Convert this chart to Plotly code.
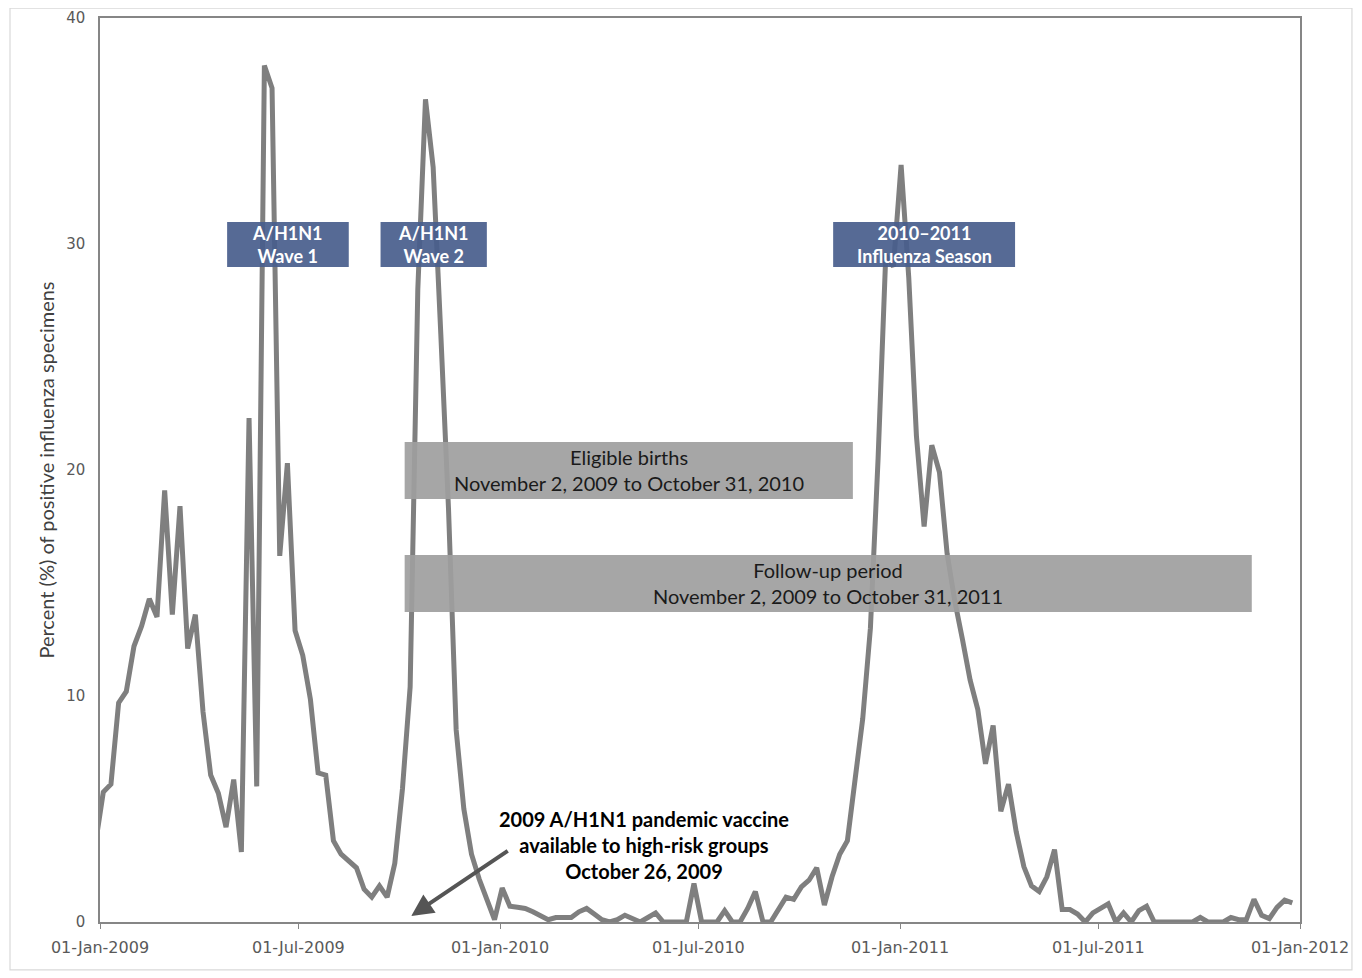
import pandas as pd
import plotly.graph_objects as go

# ---- data ----
week_start = "2008-12-28"
n_weeks = 157
pct_positive = [
    3.5,
    5.75, 6.1, 9.7, 10.2, 12.2, 13.1, 14.3, 13.5, 19.1, 13.6,
    18.4, 12.1, 13.6, 9.3, 6.5, 5.7, 4.2, 6.3, 3.1, 22.3,
    6.0, 37.9, 36.9, 16.2, 20.3, 12.9, 11.8, 9.85, 6.6, 6.5,
    3.6, 3.0, 2.7, 2.4, 1.45, 1.1, 1.6, 1.1, 2.6, 5.9,
    10.4, 28.0, 36.4, 33.4, 26.0, 18.3, 8.5, 5.0, 3.0, 1.9,
    1.0, 0.1, 1.5, 0.7, 0.65, 0.6, 0.45, 0.3, 0.1, 0.2,
    0.2, 0.2, 0.45, 0.6, 0.35, 0.1, 0.0, 0.1, 0.3, 0.15,
    0.0, 0.2, 0.4, 0.0, 0.0, 0.0, 0.0, 1.7, 0.0, 0.0,
    0.0, 0.5, 0.0, 0.0, 0.6, 1.35, 0.0, 0.0, 0.6, 1.1,
    1.0, 1.55, 1.85, 2.4, 0.75, 2.0, 3.0, 3.6, 6.3, 9.0,
    13.0, 20.5, 29.5, 29.0, 33.5, 28.5, 21.5, 17.5, 21.1, 19.9,
    16.3, 14.2, 12.5, 10.7, 9.4, 7.0, 8.7, 4.9, 6.1, 4.0,
    2.45, 1.6, 1.35, 2.0, 3.2, 0.55, 0.55, 0.35, 0.0, 0.4,
    0.6, 0.8, 0.0, 0.4, 0.0, 0.5, 0.7, 0.0, 0.0, 0.0,
    0.0, 0.0, 0.0, 0.2, 0.0, 0.0, 0.0, 0.2, 0.1, 0.1,
    1.0, 0.3, 0.15, 0.65, 0.97, 0.85,
]
weeks = pd.date_range(week_start, periods=n_weeks, freq="7D")

x_tickvals = ["2009-01-01", "2009-07-01", "2010-01-01", "2010-07-01",
              "2011-01-01", "2011-07-01", "2012-01-01"]
x_ticktext = ["01-Jan-2009", "01-Jul-2009", "01-Jan-2010", "01-Jul-2010",
              "01-Jan-2011", "01-Jul-2011", "01-Jan-2012"]
y_tickvals = [0, 10, 20, 30, 40]

wave_labels = ["A/H1N1<br>Wave 1", "A/H1N1<br>Wave 2", "2010\u20132011<br>Influenza Season"]
wave_spans = [("2009-04-27", "2009-08-16"), ("2009-09-14", "2009-12-20"), ("2010-11-01", "2011-04-16")]
period_labels = ["Eligible births<br>November 2, 2009 to October 31, 2010",
                 "Follow-up period<br>November 2, 2009 to October 31, 2011"]
period_spans = [("2009-10-06", "2010-11-19"), ("2009-10-06", "2011-11-18")]
vaccine_text = "2009 A/H1N1 pandemic vaccine<br>available to high-risk groups<br>October 26, 2009"

fig = go.Figure()
fig.add_trace(go.Scatter(
    x=weeks, y=pct_positive, mode="lines",
    line=dict(color="#7f7f7f", width=5), showlegend=False, hoverinfo="x+y",
))

shapes = []
annotations = []
BLUE = "rgb(72,93,140)"
GRAY = "rgb(158,158,158)"

# blue wave boxes
for (x0, x1), label in zip(wave_spans, wave_labels):
    shapes.append(dict(type="rect", xref="x", yref="y", x0=x0, x1=x1, y0=28.98, y1=30.97,
                       fillcolor=BLUE, opacity=0.92, line=dict(width=0), layer="above"))
    mid = pd.Timestamp(x0) + (pd.Timestamp(x1) - pd.Timestamp(x0)) / 2
    annotations.append(dict(x=mid, y=29.97, xref="x", yref="y", text="<b>" + label + "</b>",
                            showarrow=False, font=dict(family="Lato", size=18, color="white"),
                            align="center"))

# gray period boxes
for (x0, x1), label, (yb, yt) in zip(period_spans, period_labels, [(18.72, 21.24), (13.72, 16.24)]):
    shapes.append(dict(type="rect", xref="x", yref="y", x0=x0, x1=x1, y0=yb, y1=yt,
                       fillcolor=GRAY, opacity=0.92, line=dict(width=0), layer="above"))
    mid = pd.Timestamp(x0) + (pd.Timestamp(x1) - pd.Timestamp(x0)) / 2
    annotations.append(dict(x=mid, y=(yb + yt) / 2, xref="x", yref="y", text=label,
                            showarrow=False, font=dict(family="Lato", size=20, color="#1a1a1a"),
                            align="center"))

# vaccine annotation + arrow
annotations.append(dict(x="2010-05-12", y=3.4, xref="x", yref="y", text="<b>" + vaccine_text + "</b>",
                        showarrow=False, font=dict(family="Lato", size=20, color="black"),
                        align="center"))
annotations.append(dict(x="2009-10-12", y=0.27, xref="x", yref="y", text="",
                        showarrow=True, ax=98, ay=-66, arrowhead=2, arrowsize=1.1,
                        arrowwidth=4, arrowcolor="#555555", standoff=0))

# outer chart frame
shapes.append(dict(type="rect", xref="paper", yref="paper", x0=-0.075, x1=1.0433,
                   y0=-0.053, y1=1.011, line=dict(color="#d9d9d9", width=1.2),
                   fillcolor="rgba(0,0,0,0)", layer="below"))

fig.update_layout(
    width=1354, height=970,
    margin=dict(l=92, r=62, t=10, b=56),
    paper_bgcolor="white", plot_bgcolor="white",
    shapes=shapes, annotations=annotations,
    font=dict(family="DejaVu Sans", color="#595959"),
)
fig.update_xaxes(
    range=["2009-01-01", "2012-01-01"], tickvals=x_tickvals, ticktext=x_ticktext,
    showgrid=False, zeroline=False, showline=True, linecolor="#868686", linewidth=1.5,
    mirror=True, ticks="outside", ticklen=5, tickcolor="#868686", automargin=False,
    ticklabelstandoff=5,
    tickfont=dict(family="DejaVu Sans", size=16, color="#595959"),
)
fig.update_yaxes(
    range=[0, 40], tickvals=y_tickvals, showgrid=False, zeroline=False,
    showline=True, linecolor="#868686", linewidth=1.5, mirror=True, ticks="",
    automargin=False,
    tickfont=dict(family="DejaVu Sans", size=15, color="#595959"),
    ticklabelstandoff=10,
    title=dict(text="Percent (%) of positive influenza specimens",
               font=dict(family="Lato", size=20, color="#404040"), standoff=6),
)

fig.write_html("out.html")
